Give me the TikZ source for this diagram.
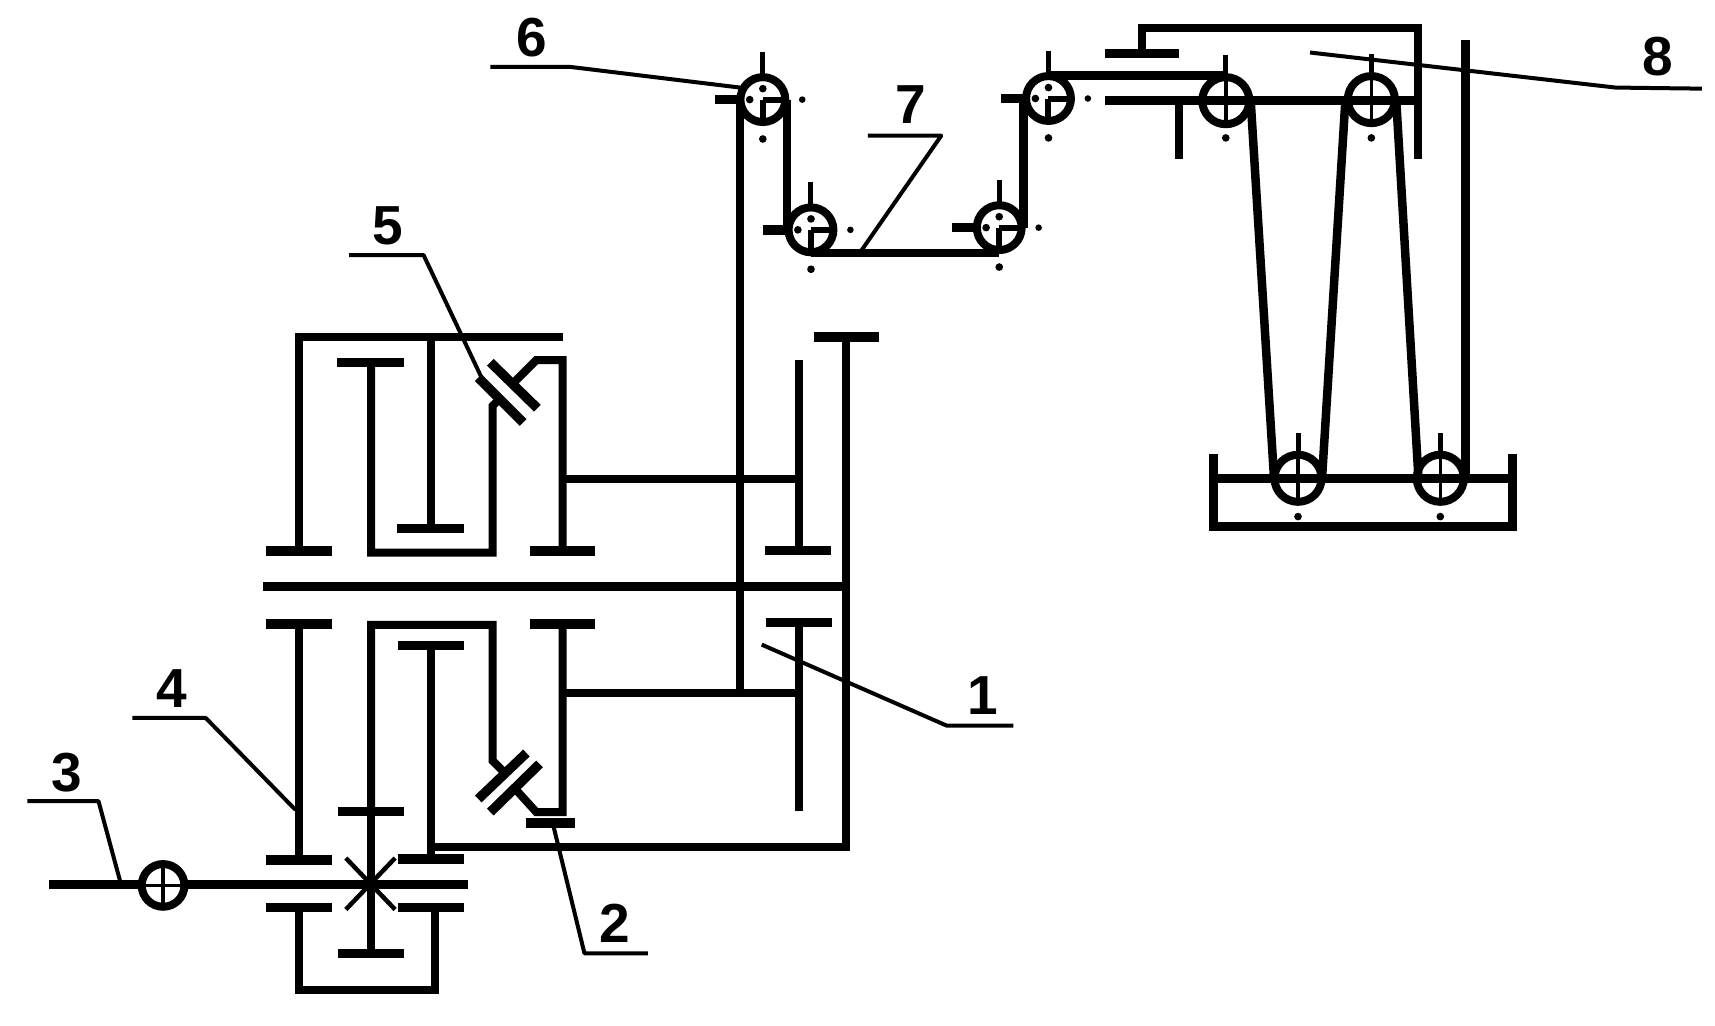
\documentclass[tikz,border=0pt]{standalone}
\usepackage{fontspec}
\setmainfont{Liberation Sans}
\tikzset{
  ln/.style={line width=8pt,line cap=butt,line join=miter,black},
  bar/.style={line width=9.5pt,line cap=butt,black},
  belt/.style={line width=8.5pt,line cap=butt,black},
  lead/.style={line width=4pt,line cap=butt,line join=round,black},
  sheave/.style={line width=8pt,black},
  tick/.style={line width=5pt,line cap=butt,black},
  num/.style={font=\fontsize{55}{55}\selectfont\bfseries,inner sep=0pt,text=black}
}
% dotted pulley: x, y, radius
\newcommand\dotpulley[3]{%
  \draw[sheave] (#1,#2) circle (#3);
  \draw[tick,line width=6pt] (#1,#2) -- ++(#3,0);
  \draw[tick,line width=6pt] (#1,#2) -- ++(0,#3);
  \fill (#1,#2-10) circle (3.5);
  \fill (#1-12,#2) circle (3.5);
  \fill (#1+36,#2) circle (3);
  \fill (#1,#2+36) circle (3.5);
  \draw[tick] (#1,#2-#3) -- ++(0,-23);
  \draw[bar] (#1-#3-1,#2) -- ++(-22,0);
}
% crossed pulley: x, y, radius
\newcommand\crosspulley[3]{%
  \draw[sheave] (#1,#2) circle (#3);
  \draw[tick,line width=3.5pt] (#1,#2-#3) -- (#1,#2+#3);
  \draw[tick,line width=3.5pt] (#1-#3,#2) -- (#1+#3,#2);
  \draw[tick] (#1,#2-#3) -- ++(0,-20);
}
\begin{document}
\begin{tikzpicture}[x=1.0945pt,y=-1.0945pt]
\useasboundingbox (0,0) rectangle (1567,937.4);
\fill[white] (0,0) rectangle (1567,937.4);

% --- central shaft
\draw[bar] (240,536) -- (771,536);

% --- upper half
\draw[bar] (243,503.5) -- (303,503.5);
\draw[ln] (273,503.5) -- (273,308) -- (514,308);
\draw[ln] (394,308) -- (394,481);
\draw[bar] (363,483) -- (424,483);
\draw[bar] (308,331) -- (369,331);
\draw[ln] (339,331) -- (339,505) -- (450,505) -- (450,371) -- (459,362);
\draw[bar] (437,345) -- (478,386);
\draw[bar] (448,331) -- (491,373);
\draw[ln] (470,349) -- (490,329) -- (514,329) -- (514,503);
\draw[bar] (484,503.5) -- (544,503.5);
\draw[ln] (514,438) -- (727,438);
\draw[ln] (730,329) -- (730,501);
\draw[bar] (699,503) -- (759,503);

% --- right frame
\draw[bar] (744,308) -- (803,308);
\draw[ln] (773,308) -- (773,774) -- (397,774);

% --- lower half
\draw[bar] (243,570) -- (303,570);
\draw[ln] (273,570) -- (273,784);
\draw[bar] (243,786) -- (303,786);
\draw[ln] (339,741) -- (339,870);
\draw[ln] (339,741) -- (339,571) -- (450,571) -- (450,695) -- (460,705);
\draw[bar] (309,741.5) -- (369,741.5);
\draw[bar] (309,871) -- (369,871);
\draw[bar] (364,590) -- (424,590);
\draw[ln] (394,590) -- (394,784);
\draw[bar] (364,785) -- (424,785);
\draw[bar] (437,730) -- (481,688);
\draw[bar] (448,742) -- (493,698);
\draw[ln] (470,720) -- (490,742) -- (514,742) -- (514,570);
\draw[bar] (484,570) -- (544,570);
\draw[ln] (514,633) -- (727,633);
\draw[ln] (730,570) -- (730,741);
\draw[bar] (700,569) -- (760,569);
\draw[bar] (481,752) -- (525,752);

% --- input shaft and output gear box
\draw[bar] (45,808) -- (428,808);
\draw[bar] (243,829) -- (303,829);
\draw[bar] (364,829) -- (424,829);
\draw[ln] (273,829) -- (273,905) -- (397,905) -- (397,829);
\draw[line width=4.5pt,black] (316,784) -- (361,831);
\draw[line width=4.5pt,black] (361,784) -- (316,831);
\draw[ln] (339,780) -- (339,840);

% input pulley
\draw[sheave,fill=white] (149,809) circle (19.5);
\draw[tick,line width=3.5pt] (149,790) -- (149,828);
\draw[tick,line width=3.5pt] (130,809) -- (168,809);

% --- thread / belt
\draw[belt] (676,633) -- (676,91);
\draw[belt] (719,91) -- (719,210);
\draw[belt] (741,231) -- (913,231);
\draw[belt] (935,208) -- (935,90);
\draw[belt] (958,69) -- (1120,69);
\draw[belt] (1143,96) -- (1164,436);
\draw[belt] (1208,436) -- (1229,96);
\draw[belt] (1276,96) -- (1296,436);
\draw[ln,line width=9pt] (1339,436) -- (1339,37);

\dotpulley{697}{91}{20.5}
\dotpulley{741}{210}{20.5}
\dotpulley{913}{208}{20.5}
\dotpulley{958}{90}{20.5}

% --- upper right frame
\draw[bar] (1010,49) -- (1077,49);
\draw[ln] (1043,46) -- (1043,26) -- (1296,26) -- (1296,145);
\draw[bar] (1010,92) -- (1296,92);
\draw[ln] (1077,92) -- (1077,145);

\crosspulley{1120}{92}{21.5}
\crosspulley{1253}{91}{21.5}
\fill (1120,126) circle (3.5);
\fill (1253,126) circle (3.5);

% --- bath
\draw[ln,line width=9pt] (1109,415) -- (1109,481) -- (1382,481) -- (1382,415);
\draw[bar] (1109,437) -- (1382,437);
\crosspulley{1186}{437}{21.5}
\crosspulley{1316}{437}{21.5}
\fill (1186,472) circle (3.5);
\fill (1316,472) circle (3.5);

% --- leaders
\draw[lead] (25,732) -- (90,732) -- (110,806);
\draw[lead] (121,656) -- (188,656) -- (270,740);
\draw[lead] (319,233) -- (387,233) -- (440,345);
\draw[lead] (448,61) -- (520,61) -- (676,80);
\draw[lead] (793,124) -- (860,124) -- (787,229);
\draw[lead] (1197,48) -- (1476,80) -- (1555,81);
\draw[lead] (696,589) -- (865,663) -- (926,663);
\draw[lead] (505,752) -- (534,871) -- (592,871);

% --- labels
\node[num] (n3) at (61,706) {3};
\node[num] (n4) at (157,629) {4};
\node[num] (n5) at (354,206) {5};
\node[num] (n6) at (486,34) {6};
\node[num] (n7) at (832,96) {7};
\node[num] (n8) at (1515,52) {8};
\node[num] (n1) at (898,636) {1};
\node[num] (n2) at (562,844) {2};
\end{tikzpicture}
\end{document}
